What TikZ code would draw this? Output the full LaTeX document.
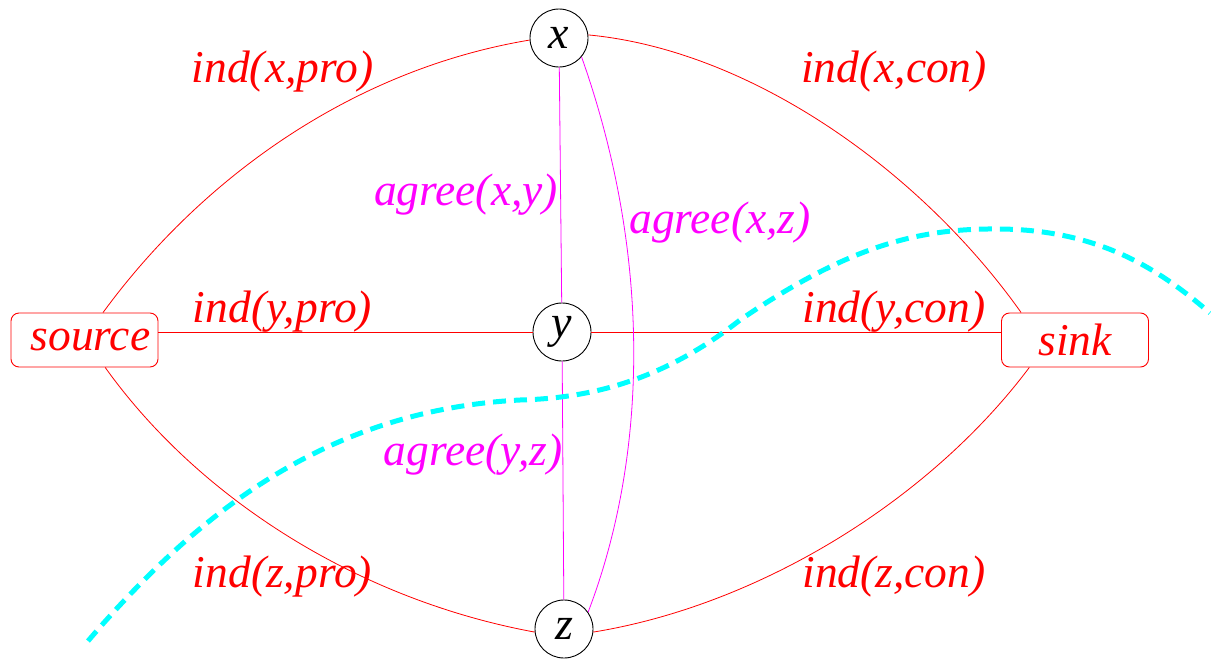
\documentclass[tikz,border=0pt]{standalone}
\usepackage{fontspec}
\setmainfont{Liberation Serif}
\definecolor{pred}{RGB}{255,0,0}
\definecolor{pmag}{RGB}{255,0,255}
\definecolor{pcyan}{RGB}{0,255,255}
\begin{document}
\begin{tikzpicture}[x=1pt,y=-1pt,
  vtx/.style={circle,draw=black,line width=0.9pt,minimum size=58pt,inner sep=0pt,font=\fontsize{46}{52}\selectfont\itshape},
  term/.style={rectangle,rounded corners=8pt,draw=pred,line width=0.9pt,minimum width=147pt,minimum height=54pt,inner sep=0pt,text=pred,font=\fontsize{45.5}{52}\selectfont\itshape},
  redlab/.style={text=pred,anchor=base,inner sep=0pt,font=\fontsize{45.5}{52}\selectfont\itshape},
  maglab/.style={text=pmag,anchor=base,inner sep=0pt,font=\fontsize{45.5}{52}\selectfont\itshape},
  redline/.style={draw=pred,line width=0.8pt},
  magline/.style={draw=pmag,line width=0.8pt},
  cut/.style={draw=pcyan,line width=5pt,dash pattern=on 13pt off 8pt}]
\useasboundingbox (0,0) rectangle (1211,659);
\node[vtx] (x) at (559,38) {x};
\node[vtx] (y) at (562,332) {y};
\node[vtx] (z) at (564,629) {z};
\node[term] (source) at (84.5,340) {\hspace*{12pt}source};
\node[term] (sink) at (1075,340) {sink};
% red edges
\draw[redline] (source.56) .. controls (200,180) and (350,70) .. (x.184);
\draw[redline] (x.6) .. controls (750,50) and (920,170) .. (sink.153);
\draw[redline] (source.-53) .. controls (200,500) and (360,600) .. (z.186);
\draw[redline] (z.354) .. controls (760,605) and (930,500) .. (sink.211);
\draw[redline] (source.east |- y.west) -- (y.west);
\draw[redline] (y.east) -- (sink.west |- y.east);
% magenta edges
\draw[magline] (x) -- (y);
\draw[magline] (y) -- (z);
\draw[magline] (x.-40) .. controls (650,250) and (650,450) .. (z.35);
% cut
\coordinate (c0) at (88,641);
\coordinate (c1) at (520,400);
\coordinate (c2) at (740,320);
\coordinate (c3) at (1000,229);
\coordinate (c4) at (1210,313);
\draw[cut] (c0) .. controls (200,510) and (330,410) .. (c1)
  .. controls (600,398) and (670,375) .. (c2)
  .. controls (850,245) and (920,228) .. (c3)
  .. controls (1100,230) and (1160,270) .. (c4);
% labels
\node[redlab] (l1) at (282.5,82) {ind(x,pro)};
\node[redlab] (l2) at (894,82) {ind(x,con)};
\node[redlab] (l3) at (282.5,322) {ind(y,pro)};
\node[redlab] (l4) at (894,322) {ind(y,con)};
\node[redlab] (l5) at (282.5,587) {ind(z,pro)};
\node[redlab] (l6) at (894,587) {ind(z,con)};
\node[maglab] (m1) at (466,205) {agree(x,y)};
\node[maglab] (m2) at (720,233) {agree(x,z)};
\node[maglab] (m3) at (473,465) {agree(y,z)};
\end{tikzpicture}
\end{document}
